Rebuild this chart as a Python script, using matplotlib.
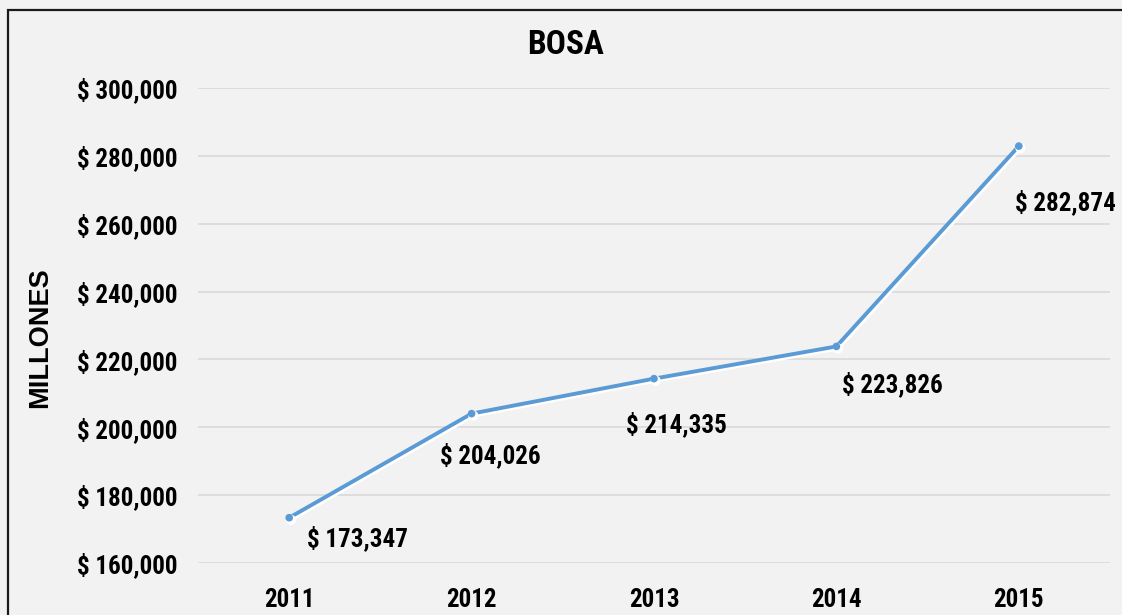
import matplotlib.pyplot as plt
import matplotlib.patheffects as pe
from matplotlib.patches import Rectangle
from matplotlib import font_manager

anios = ['2011', '2012', '2013', '2014', '2015']
valores = [173347, 204026, 214335, 223826, 282874]
y_ticks = [160000, 180000, 200000, 220000, 240000, 260000, 280000, 300000]

# label offsets (pixels) relative to each marker
offsets = [(68, -21), (19, -42), (22, -46), (56, -38), (47, -56)]

# narrow bold family closest to Arial Narrow Bold
bold_names = {f.name for f in font_manager.fontManager.ttflist
              if str(f.weight) in ('700', 'bold')}
narrow = None
for cand in ['Liberation Sans Narrow', 'Arial Narrow', 'Archivo Narrow', 'Roboto Condensed',
             'PT Sans Narrow', 'Sofia Sans Condensed', 'Fira Sans Condensed']:
    if cand in bold_names:
        narrow = cand
        break
fs = 18
if narrow is None:
    narrow, fs = 'Liberation Sans', 15
plt.rcParams['font.family'] = [narrow, 'DejaVu Sans']

fig = plt.figure(figsize=(11.22, 6.15), dpi=100)
fig.patch.set_facecolor('#F2F2F2')
fig.patches.append(Rectangle((8 / 1122, -0.1), 1.2, 1 - 10 / 615 + 0.1,
                             transform=fig.transFigure, fill=False,
                             edgecolor='#1a1a1a', linewidth=1.6))

ax = fig.add_axes([198 / 1122, 1 - 563 / 615, 912 / 1122, 475 / 615])
ax.set_facecolor('#F2F2F2')

x = list(range(len(anios)))
ax.plot(x, valores, color='#5B9BD5', linewidth=2.8, marker='o', markersize=4.5,
        solid_capstyle='round',
        path_effects=[pe.SimpleLineShadow(offset=(1.2, -1.5), shadow_color='white', alpha=1.0, linewidth=2.8),
                      pe.Normal()], zorder=3)

for xi, v, off in zip(x, valores, offsets):
    ax.annotate(f'$ {v:,}', (xi, v), xytext=off, textcoords='offset pixels',
                ha='center', va='center', fontsize=fs, fontweight='bold', color='black')

ax.set_xlim(-0.5, 4.5)
ax.set_ylim(160000, 300000)
ax.set_yticks(y_ticks)
ax.set_yticklabels([f'$ {t:,}' for t in y_ticks], fontsize=fs, fontweight='bold')
ax.set_xticks(x)
ax.set_xticklabels(anios, fontsize=fs, fontweight='bold')
ax.tick_params(axis='y', length=0, pad=15)
ax.tick_params(axis='x', length=0, pad=18)
ax.grid(axis='y', color='#D9D9D9', linewidth=1.2)
ax.set_axisbelow(True)
for s in ax.spines.values():
    s.set_visible(False)

fig.text(566 / 1122, 1 - 45 / 615, 'BOSA', ha='center', va='center', fontsize=fs + 6, fontweight='bold')
fig.text(40 / 1122, 1 - 338 / 615, 'MILLONES', ha='center', va='center', rotation=90,
         fontsize=19.5, fontweight='bold', family=['Liberation Sans', 'DejaVu Sans'])

fig.savefig('out.png', dpi=100, facecolor=fig.get_facecolor())
